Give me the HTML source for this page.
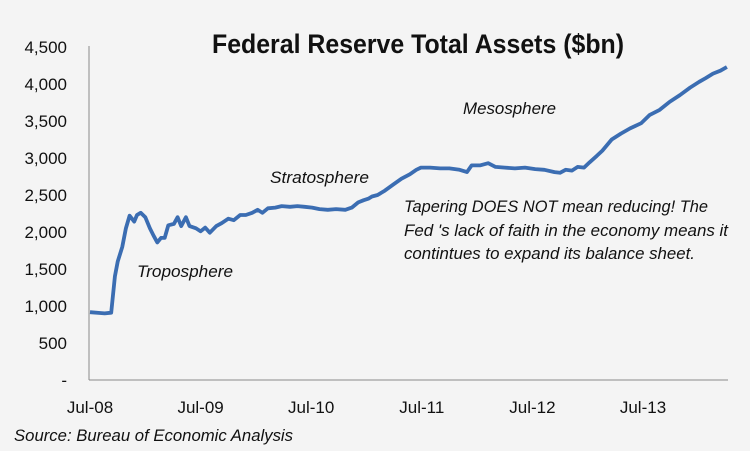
<!DOCTYPE html>
<html><head><meta charset="utf-8"><style>
html,body{margin:0;padding:0;background:#f4f4f4;}
svg{display:block;}
text{font-family:"Liberation Sans",sans-serif;fill:#111;}
</style></head><body>
<svg id="chart" width="750" height="451" viewBox="0 0 750 451" xmlns="http://www.w3.org/2000/svg">
<rect width="750" height="451" fill="#f4f4f4"/>
<text x="418" y="53" text-anchor="middle" font-size="27" font-weight="bold" textLength="412" lengthAdjust="spacingAndGlyphs" style="font-family:'Liberation Sans Narrow','Liberation Sans',sans-serif">Federal Reserve Total Assets ($bn)</text>
<g id="yaxis"></g>
<g id="xaxis"></g>
<path id="line" fill="none" stroke="#3b6db2" stroke-width="3.8" stroke-linejoin="round"/>
<g font-style="italic" font-size="17">
<text x="137" y="277" textLength="96" lengthAdjust="spacingAndGlyphs">Troposphere</text>
<text x="270" y="183" textLength="99" lengthAdjust="spacingAndGlyphs">Stratosphere</text>
<text x="463" y="114" textLength="93" lengthAdjust="spacingAndGlyphs">Mesosphere</text>
<g>
<text x="404" y="212" textLength="304" lengthAdjust="spacingAndGlyphs">Tapering DOES NOT mean reducing! The</text>
<text x="404" y="236" textLength="324" lengthAdjust="spacingAndGlyphs">Fed 's lack of faith in the economy means it</text>
<text x="404" y="259" textLength="291" lengthAdjust="spacingAndGlyphs">contintues to expand its balance sheet.</text>
</g>
<text x="14" y="441" textLength="279" lengthAdjust="spacingAndGlyphs">Source: Bureau of Economic Analysis</text>
</g>
</svg>
<script>
const months = [0,1.1,1.6,2.3,2.7,3.0,3.5,3.9,4.3,4.8,5.1,5.5,6.0,6.5,6.9,7.3,7.7,8.1,8.5,9.1,9.5,9.9,10.4,10.8,11.5,12.0,12.5,13.0,13.7,14.3,15.0,15.6,16.3,16.9,17.6,18.2,18.7,19.3,20.1,20.8,21.7,22.5,23.3,24.1,24.9,25.8,26.7,27.7,28.4,29.1,29.7,30.2,30.6,31.2,32.0,32.9,33.8,34.7,35.4,35.9,36.9,38.0,39.0,40.1,40.9,41.4,42.3,43.2,44.0,45.0,46.1,47.2,48.3,49.3,50.4,51.0,51.6,52.3,52.9,53.6,54.2,55.0,55.6,56.6,57.6,58.6,59.8,60.7,61.8,62.9,64.0,65.1,66.1,66.8,67.6,68.4,69.1];
const assets = [916,905,900,910,1400,1600,1800,2050,2220,2140,2230,2260,2200,2050,1950,1860,1920,1920,2090,2110,2200,2080,2200,2080,2050,2010,2060,1990,2080,2120,2180,2160,2230,2230,2260,2300,2260,2320,2330,2350,2340,2350,2340,2330,2310,2300,2310,2300,2330,2400,2430,2450,2480,2500,2560,2640,2720,2780,2840,2870,2870,2860,2860,2840,2810,2900,2900,2930,2880,2870,2860,2870,2850,2840,2810,2800,2840,2830,2880,2870,2940,3030,3100,3250,3330,3400,3470,3580,3650,3760,3850,3950,4030,4080,4140,4180,4230];
const yTicks = [0,500,1000,1500,2000,2500,3000,3500,4000,4500];
const yTickLabels = ["-","500","1,000","1,500","2,000","2,500","3,000","3,500","4,000","4,500"];
const xTickMonths = [0,12,24,36,48,60];
const xTickLabels = ["Jul-08","Jul-09","Jul-10","Jul-11","Jul-12","Jul-13"];

const NS="http://www.w3.org/2000/svg";
const x0=90, pxPerMonth=110.6/12, y0=380, pxPerUnit=333/4500;
function xs(m){return x0+m*pxPerMonth;}
function ys(v){return y0-v*pxPerUnit;}

const ya=document.getElementById('yaxis');
const vline=document.createElementNS(NS,'line');
vline.setAttribute('x1',89);vline.setAttribute('x2',89);vline.setAttribute('y1',46);vline.setAttribute('y2',380);
vline.setAttribute('stroke','#8a8a8a');vline.setAttribute('stroke-width','1');


ya.appendChild(vline);
yTicks.forEach((v,i)=>{
  const t=document.createElementNS(NS,'text');
  t.setAttribute('x',67);t.setAttribute('y',ys(v)+6);
  t.setAttribute('text-anchor','end');t.setAttribute('font-size','17');
  t.textContent=yTickLabels[i];
  
  
  ya.appendChild(t);
});
const xa=document.getElementById('xaxis');
const hline=document.createElementNS(NS,'line');
hline.setAttribute('x1',89);hline.setAttribute('x2',728);hline.setAttribute('y1',380);hline.setAttribute('y2',380);
hline.setAttribute('stroke','#8a8a8a');hline.setAttribute('stroke-width','1');


xa.appendChild(hline);
xTickMonths.forEach((m,i)=>{
  const t=document.createElementNS(NS,'text');
  t.setAttribute('x',xs(m));t.setAttribute('y',413);
  t.setAttribute('text-anchor','middle');t.setAttribute('font-size','17');
  t.textContent=xTickLabels[i];
  
  
  xa.appendChild(t);
});
let d='';
months.forEach((m,i)=>{d+=(i?'L':'M')+xs(m).toFixed(1)+','+ys(assets[i]).toFixed(1);});
document.getElementById('line').setAttribute('d',d);
</script>
</body></html>
